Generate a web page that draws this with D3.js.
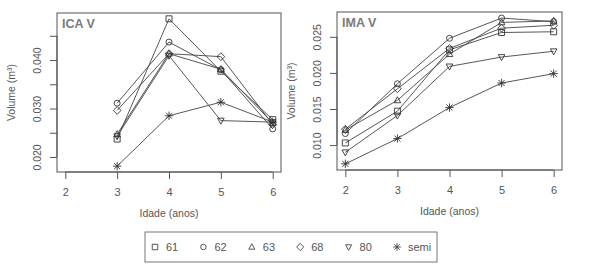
<!DOCTYPE html>
<html>
<head>
<meta charset="utf-8">
<script src="https://cdn.jsdelivr.net/npm/d3@7"></script>
<style>
  body { margin: 0; background: #fff; }
  text { font-family: "Liberation Sans", Arial, sans-serif; fill: #555; }
</style>
</head>
<body>
<script>
// data
var ages = [2, 3, 4, 5, 6];
var icaAges = [3, 4, 5, 6];
var series = ["61", "62", "63", "68", "80", "semi"];
var shapes = ["square", "circle", "triangle", "diamond", "down", "star"];

// ICA V (ages 3..6)
var ica61   = [0.0237, 0.0485, 0.0377, 0.0277];
var ica62   = [0.0311, 0.0437, 0.0380, 0.0258];
var ica63   = [0.0247, 0.0413, 0.0381, 0.0270];
var ica68   = [0.0296, 0.0413, 0.0407, 0.0267];
var ica80   = [0.0243, 0.0409, 0.0275, 0.0272];
var icaSemi = [0.0181, 0.0285, 0.0313, 0.0272];

// IMA V (ages 2..6)
var ima61   = [0.0103, 0.0147, 0.0232, 0.0256, 0.0257];
var ima62   = [0.0116, 0.0185, 0.0248, 0.0276, 0.0271];
var ima63   = [0.0121, 0.0162, 0.0226, 0.0270, 0.0272];
var ima68   = [0.0122, 0.0178, 0.0234, 0.0262, 0.0266];
var ima80   = [0.0090, 0.0141, 0.0209, 0.0222, 0.0230];
var imaSemi = [0.0074, 0.0109, 0.0152, 0.0186, 0.0199];

var icaTicks = [0.020, 0.025, 0.030, 0.035, 0.040, 0.045];
var icaLabels = [0.020, 0.030, 0.040];
var imaTicks = [0.010, 0.015, 0.020, 0.025];

var ica = [ica61, ica62, ica63, ica68, ica80, icaSemi];
var ima = [ima61, ima62, ima63, ima68, ima80, imaSemi];

var svg = d3.select("body").append("svg")
    .attr("width", 589)
    .attr("height", 267);

// R style open symbols
function symPath(type, s) {
  var h = s / 2;
  switch (type) {
    case "square": return "M" + (-h) + "," + (-h) + "h" + s + "v" + s + "h" + (-s) + "Z";
    case "circle": return d3.symbol(d3.symbolCircle, Math.PI * h * h)();
    case "triangle": return "M0," + (-h * 1.2) + "L" + (h * 1.1) + "," + (h * 0.8) + "L" + (-h * 1.1) + "," + (h * 0.8) + "Z";
    case "down": return "M0," + (h * 1.2) + "L" + (h * 1.1) + "," + (-h * 0.8) + "L" + (-h * 1.1) + "," + (-h * 0.8) + "Z";
    case "diamond": return "M0," + (-h * 1.3) + "L" + (h * 1.3) + ",0L0," + (h * 1.3) + "L" + (-h * 1.3) + ",0Z";
    case "star":
      var a = h * 1.4, b = a * 0.72;
      return "M" + (-a) + ",0H" + a + "M0," + (-a) + "V" + a +
             "M" + (-b) + "," + (-b) + "L" + b + "," + b + "M" + (-b) + "," + b + "L" + b + "," + (-b);
  }
}

function panel(opt) {
  var x = d3.scaleLinear().domain([1.84, 6.16]).range([opt.left, opt.right]);
  var y = d3.scaleLinear().domain(opt.ydomain).range([opt.bottom, opt.top]);
  var g = svg.append("g");

  // box
  g.append("rect")
      .attr("x", opt.left).attr("y", opt.top)
      .attr("width", opt.right - opt.left).attr("height", opt.bottom - opt.top)
      .attr("fill", "none").attr("stroke", "#555").attr("stroke-width", 1);

  // x axis
  var xa = g.append("g")
      .attr("transform", "translate(0," + opt.bottom + ")")
      .call(d3.axisBottom(x).tickValues(ages).tickFormat(d3.format("d"))
              .tickSize(7).tickPadding(9));
  xa.select(".domain").remove();
  xa.append("line")
      .attr("x1", x(ages[0])).attr("x2", x(ages[ages.length - 1]))
      .attr("stroke", "#555");
  xa.selectAll("line").attr("stroke", "#555");
  xa.selectAll("text").style("font-size", "11px").attr("fill", "#555");

  // y axis
  var ya = g.append("g")
      .attr("transform", "translate(" + opt.left + ",0)")
      .call(d3.axisLeft(y).tickValues(opt.yticks)
              .tickFormat(function(d) {
                return opt.ylabels.some(function(v) { return Math.abs(v - d) < 1e-9; }) ? d3.format(".3f")(d) : "";
              })
              .tickSize(7));
  ya.select(".domain").remove();
  ya.append("line")
      .attr("y1", y(opt.yticks[0])).attr("y2", y(opt.yticks[opt.yticks.length - 1]))
      .attr("stroke", "#555");
  ya.selectAll("line").attr("stroke", "#555");
  ya.selectAll("text")
      .attr("transform", "rotate(-90)")
      .attr("x", 0).attr("y", -20).attr("dy", "0.35em")
      .attr("text-anchor", "middle")
      .style("font-size", "10.5px").attr("fill", "#555");

  // titles
  g.append("text")
      .attr("x", (x(2) + x(6)) / 2).attr("y", opt.bottom + 45)
      .attr("text-anchor", "middle").style("font-size", "10.5px")
      .text("Idade (anos)");
  g.append("text")
      .attr("transform", "translate(" + (opt.left - 42) + "," + ((opt.top + opt.bottom) / 2) + ") rotate(-90)")
      .attr("text-anchor", "middle").style("font-size", "10.5px")
      .text("Volume (m³)");
  g.append("text")
      .attr("x", opt.left + 5).attr("y", opt.top + 15)
      .style("font-size", "12.5px").style("font-weight", "bold")
      .style("fill", "#7a7a7a")
      .text(opt.title);

  var line = d3.line()
      .x(function(d) { return x(d[0]); })
      .y(function(d) { return y(d[1]); });

  opt.values.forEach(function(vals, i) {
    var pts = vals.map(function(v, j) { return [opt.ages[j], v]; });
    g.append("path")
        .datum(pts)
        .attr("d", line)
        .attr("fill", "none")
        .attr("stroke", "#444")
        .attr("stroke-width", 0.9);
    g.selectAll(null)
        .data(pts)
      .enter().append("path")
        .attr("transform", function(d) { return "translate(" + x(d[0]) + "," + y(d[1]) + ")"; })
        .attr("d", symPath(shapes[i], 6))
        .attr("fill", "none")
        .attr("stroke", "#333")
        .attr("stroke-width", 0.9);
  });
}

panel({
  left: 57, right: 281, top: 13, bottom: 172,
  ydomain: [0.0169, 0.0497],
  yticks: icaTicks, ylabels: icaLabels,
  ages: icaAges, values: ica, title: "ICA V"
});

panel({
  left: 337, right: 562, top: 12, bottom: 170,
  ydomain: [0.00655, 0.02844],
  yticks: imaTicks, ylabels: imaTicks,
  ages: ages, values: ima, title: "IMA V"
});

// legend
var lx = d3.scalePoint().domain(series).range([155, 397]);
var legend = svg.append("g");
legend.append("rect")
    .attr("x", 145).attr("y", 232).attr("width", 292).attr("height", 30)
    .attr("fill", "none").attr("stroke", "#777");
series.forEach(function(s, i) {
  legend.append("path")
      .attr("transform", "translate(" + lx(s) + ",247)")
      .attr("d", symPath(shapes[i], 5.5))
      .attr("fill", "none").attr("stroke", "#444").attr("stroke-width", 0.9);
  legend.append("text")
      .attr("x", lx(s) + 11).attr("y", 251)
      .style("font-size", "11px")
      .text(s);
});
</script>
</body>
</html>
